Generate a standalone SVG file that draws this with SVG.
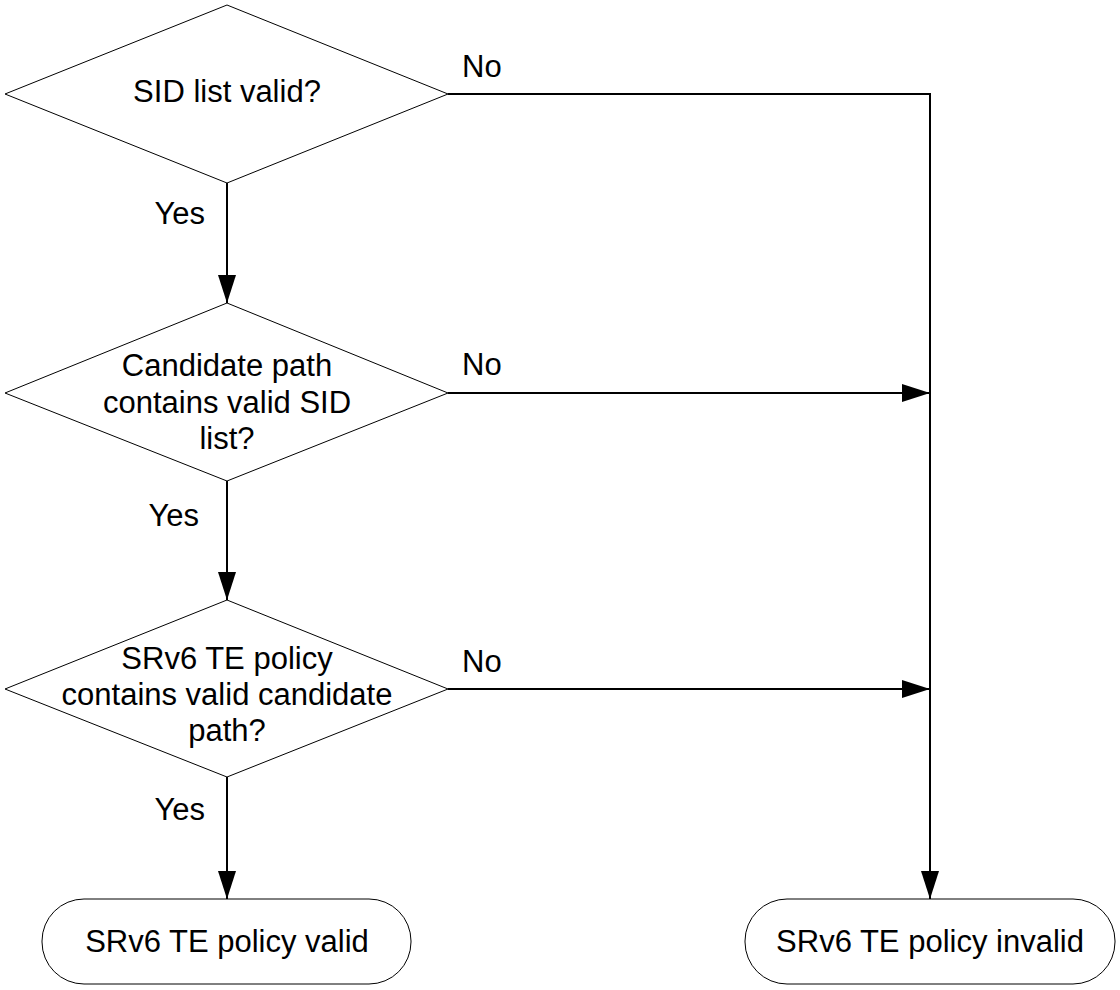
<svg xmlns="http://www.w3.org/2000/svg" width="1120" height="990" viewBox="0 0 1120 990">
<style>
text{font-family:"Liberation Sans",Arial,sans-serif;font-size:31px;fill:#000}
.c{text-anchor:middle}
.e{text-anchor:end}
.shape{fill:#fff;stroke:#000;stroke-width:1}
.line{fill:none;stroke:#000;stroke-width:2}
</style>
<defs>
<marker id="arr" markerUnits="userSpaceOnUse" markerWidth="28" markerHeight="20" refX="28" refY="10" orient="auto">
<path d="M0,1 L28,10 L0,19 z" fill="#000"/>
</marker>
</defs>
<rect width="1120" height="990" fill="#fff"/>
<g id="connectors">
<line class="line" x1="227" y1="183" x2="227" y2="303" marker-end="url(#arr)"/>
<line class="line" x1="227" y1="481" x2="227" y2="600" marker-end="url(#arr)"/>
<line class="line" x1="227" y1="777" x2="227" y2="899" marker-end="url(#arr)"/>
<polyline class="line" points="448,94 930,94 930,899" marker-end="url(#arr)"/>
<line class="line" x1="448" y1="393" x2="930" y2="393" marker-end="url(#arr)"/>
<line class="line" x1="448" y1="689" x2="930" y2="689" marker-end="url(#arr)"/>
<text class="e" x="205" y="224">Yes</text>
<text class="e" x="199" y="526">Yes</text>
<text class="e" x="205" y="820">Yes</text>
<text x="462" y="77">No</text>
<text x="462" y="375">No</text>
<text x="462" y="672">No</text>
</g>
<g id="d1">
<polygon class="shape" points="227,5 448,94 227,183 5,94"/>
<text class="c" x="227" y="102">SID list valid?</text>
</g>
<g id="d2">
<polygon class="shape" points="227,303 448,393 227,481 5,393"/>
<text class="c" x="227" y="376">Candidate path</text>
<text class="c" x="227" y="412.5">contains valid SID</text>
<text class="c" x="227" y="449">list?</text>
</g>
<g id="d3">
<polygon class="shape" points="227,600 448,689 227,777 5,689"/>
<text class="c" x="227" y="669">SRv6 TE policy</text>
<text class="c" x="227" y="705">contains valid candidate</text>
<text class="c" x="227" y="741">path?</text>
</g>
<g id="t-valid">
<rect class="shape" x="42" y="899" width="369" height="85" rx="42" ry="42"/>
<text class="c" x="227" y="952">SRv6 TE policy valid</text>
</g>
<g id="t-invalid">
<rect class="shape" x="745" y="899" width="370" height="85" rx="42" ry="42"/>
<text class="c" x="930" y="952">SRv6 TE policy invalid</text>
</g>
</svg>
